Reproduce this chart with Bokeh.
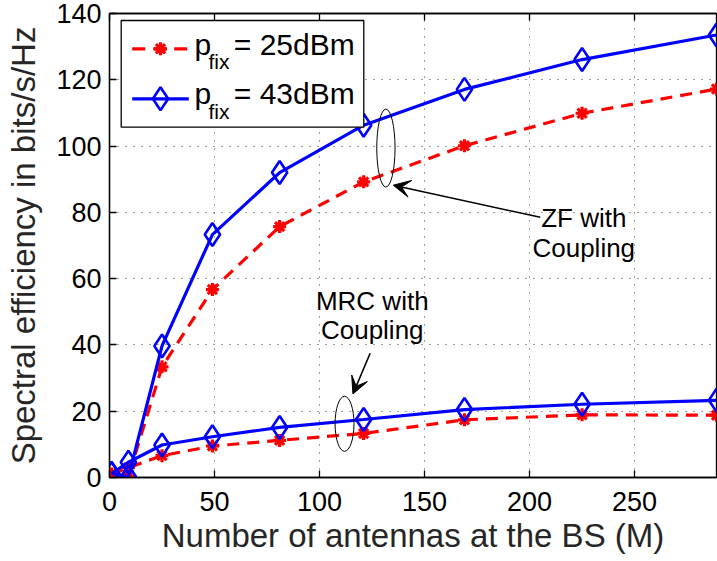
from bokeh.plotting import figure
from bokeh.models import Range1d, FixedTicker, LinearAxis, Arrow, VeeHead, CustomJSTickFormatter
from bokeh.core.properties import value
from bokeh.embed import file_html
from bokeh.resources import INLINE

# ---------------- data ----------------
M = [1, 9, 25, 49, 81, 121, 169, 225, 289]
zf_25 = [1.0, 0.3, 33.4, 56.7, 75.7, 89.2, 100.1, 109.9, 117.2]
zf_43 = [1.2, 0.2, 39.7, 73.3, 92.0, 106.3, 117.1, 126.1, 133.5]
mrc_25 = [1.0, 3.0, 6.6, 9.5, 11.2, 13.3, 17.4, 18.9, 18.8]
mrc_43 = [1.2, 4.6, 9.8, 12.3, 15.1, 17.5, 20.5, 22.1, 23.3]
x_ticks = [0, 50, 100, 150, 200, 250]
y_ticks = [0, 20, 40, 60, 80, 100, 120, 140]
legend_values = ["= 25dBm", "= 43dBm"]
x_label = "Number of antennas at the BS (M)"
y_label = "Spectral efficiency in bits/s/Hz"

FONT = "Liberation Sans"
W, H = 717, 561
BL, BR, BT, BB = 109, 1, 13, 84
X_MAX, Y_MAX = 289, 140

p = figure(width=W, height=H, x_range=Range1d(0, X_MAX), y_range=Range1d(0, Y_MAX),
           output_backend="svg", toolbar_location=None,
           min_border_left=BL, min_border_right=BR, min_border_top=BT, min_border_bottom=BB)
p.background_fill_color = "white"
p.border_fill_color = "white"
p.outline_line_color = "black"
p.outline_line_width = 1.3

# canvas-pixel helpers (used for the hand-drawn legend box only)
fw = W - BL - BR
fh = H - BT - BB
def dx(px):
    return (px - BL) * X_MAX / fw
def dy(py):
    return (BT + fh - py) * Y_MAX / fh

for ax in (p.xaxis[0], p.yaxis[0]):
    ax.major_tick_in = 7
    ax.major_tick_out = 0
    ax.minor_tick_in = 0
    ax.minor_tick_out = 0
    ax.axis_line_color = "black"
    ax.axis_line_width = 1.3
    ax.major_tick_line_color = "black"
    ax.major_tick_line_width = 1.3
    ax.major_label_text_font = FONT
    ax.major_label_text_font_size = "27px"
    ax.major_label_text_color = "black"
    ax.axis_label_text_font = FONT
    ax.axis_label_text_font_size = "33px"
    ax.axis_label_text_font_style = "normal"
    ax.axis_label_text_color = "#262626"

p.xaxis.ticker = FixedTicker(ticks=x_ticks)
p.yaxis.ticker = FixedTicker(ticks=y_ticks)
p.xaxis.axis_label = x_label
p.yaxis.axis_label = y_label
p.xaxis.major_label_standoff = 14
p.yaxis.major_label_standoff = 8
p.xaxis.axis_label_standoff = 3
p.yaxis.axis_label_standoff = 11

top = LinearAxis(ticker=FixedTicker(ticks=x_ticks), formatter=CustomJSTickFormatter(code="return ''"),
                 major_tick_in=7, major_tick_out=0, minor_tick_in=0, minor_tick_out=0,
                 major_label_standoff=0, major_label_text_font_size="1px",
                 axis_line_color="black", axis_line_width=1.3, major_tick_line_width=1.3)
p.add_layout(top, "above")

for g in (p.xgrid[0], p.ygrid[0]):
    g.grid_line_color = "black"
    g.grid_line_alpha = 0.75
    g.grid_line_dash = "1 7"
    g.grid_line_width = 1
p.xgrid.ticker = FixedTicker(ticks=x_ticks)
p.ygrid.ticker = FixedTicker(ticks=y_ticks)

RED, BLUE = "#ff0000", "#0000ff"
DASH = "12 8"

# 25 dBm (red dashed, asterisks)
for ys in (zf_25, mrc_25):
    p.line(M, ys, line_color=RED, line_width=3.2, line_dash=DASH)
    p.scatter(M, ys, marker="asterisk", size=13, line_color=RED, line_width=3.2)
# 43 dBm (blue solid, diamonds)
for ys in (zf_43, mrc_43):
    p.line(M, ys, line_color=BLUE, line_width=3.2)
    p.scatter(M, ys, marker="diamond", size=23, line_color=BLUE, line_width=2.6, fill_color=None)

# annotations: ellipses, arrows, texts
p.ellipse(x=[131.6, 111.9], y=[99.4, 16.2], width=[8.7, 9.0], height=[23.5, 16.6],
          fill_color=None, line_color="black", line_width=1)
p.add_layout(Arrow(end=VeeHead(size=17, fill_color="black", line_color="black", line_width=1),
                   x_start=205.1, y_start=78.5, x_end=135.1, y_end=88.2,
                   line_color="black", line_width=1.6))
p.add_layout(Arrow(end=VeeHead(size=17, fill_color="black", line_color="black", line_width=1),
                   x_start=124.1, y_start=37.5, x_end=115.9, y_end=25.2,
                   line_color="black", line_width=1.6))
p.text(x=[225.8, 225.8], y=[78.2, 69.3], text=["ZF with", "Coupling"],
       text_align="center", text_baseline="alphabetic",
       text_font=value(FONT), text_font_size=value("26px"), text_color="black")
p.text(x=[125.1, 125.1], y=[53.3, 44.5], text=["MRC with", "Coupling"],
       text_align="center", text_baseline="alphabetic",
       text_font=value(FONT), text_font_size=value("26px"), text_color="black")

# legend (drawn by hand so that the subscript can be shown)
p.quad(left=[dx(120.7)], right=[dx(363.3)], top=[dy(20)], bottom=[dy(126.7)],
       fill_color="white", line_color="black", line_width=1.3)
rows = [48.3, 98.3]
p.line([dx(131.7), dx(188.3)], [dy(rows[0])] * 2, line_color=RED, line_width=3.2, line_dash="13 8")
p.scatter([dx(160)], [dy(rows[0])], marker="asterisk", size=13, line_color=RED, line_width=3.2)
p.line([dx(131.7), dx(188.3)], [dy(rows[1])] * 2, line_color=BLUE, line_width=3.2)
p.scatter([dx(160)], [dy(rows[1])], marker="diamond", size=23, line_color=BLUE, line_width=2.6, fill_color=None)
base = [43.8, 93.3]
subb = [60.5, 111.0]
p.text(x=[dx(194)] * 2, y=[dy(b) for b in base], text=["p", "p"],
       text_align="left", text_baseline="alphabetic",
       text_font=value(FONT), text_font_size=value("30px"), text_color="black")
p.text(x=[dx(208)] * 2, y=[dy(b) for b in subb], text=["fix", "fix"],
       text_align="left", text_baseline="alphabetic",
       text_font=value(FONT), text_font_size=value("21px"), text_color="black")
p.text(x=[dx(233.3)] * 2, y=[dy(b) for b in base], text=legend_values,
       text_align="left", text_baseline="alphabetic",
       text_font=value(FONT), text_font_size=value("30px"), text_color="black")

open("out.html", "w").write(file_html(p, INLINE))
